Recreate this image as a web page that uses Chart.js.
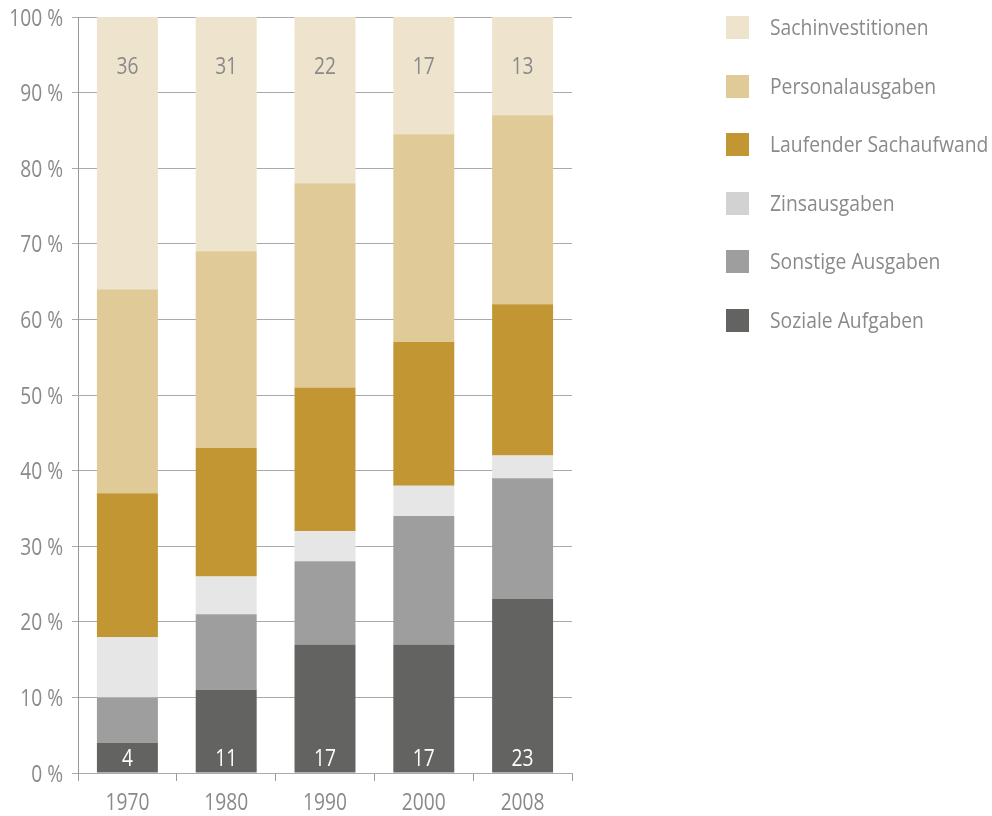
<!DOCTYPE html>
<html><head><meta charset="utf-8">
<script src="https://cdn.jsdelivr.net/npm/chart.js@4"></script>
<style>html,body{margin:0;padding:0;background:#fff;}#wrap{width:992px;height:816px;position:relative;}</style>
</head><body><div id="wrap"><canvas id="c" width="992" height="816"></canvas></div>
<script>
const categories = ['1970','1980','1990','2000','2008'];
const soziale   = [4, 11, 17, 17, 23];
const sonstige  = [6, 10, 11, 17, 16];
const zins      = [8, 5, 4, 4, 3];
const laufender = [19, 17, 19, 19, 20];
const personal  = [27, 26, 27, 27.5, 25];
const sachinv   = [36, 31, 22, 15.5, 13];
const topLabels = ['36','31','22','17','13'];
const yTicks = [0,10,20,30,40,50,60,70,80,90,100];

const FONT = '"Open Sans", "Noto Sans", sans-serif';
const TXT = '#8a8a8a';

const datasets = [
  {label:'Soziale Aufgaben', data:soziale, backgroundColor:'#636361', legendColor:'#636361'},
  {label:'Sonstige Ausgaben', data:sonstige, backgroundColor:'#9d9e9d', legendColor:'#9d9e9d'},
  {label:'Zinsausgaben', data:zins, backgroundColor:'#e6e6e6', legendColor:'#d1d2d1'},
  {label:'Laufender Sachaufwand', data:laufender, backgroundColor:'#c29733', legendColor:'#c29733'},
  {label:'Personalausgaben', data:personal, backgroundColor:'#e0ca98', legendColor:'#e0ca98'},
  {label:'Sachinvestitionen', data:sachinv, backgroundColor:'#eee3cd', legendColor:'#eee3cd'}
];
datasets.forEach(d=>{d.barPercentage=0.617;d.categoryPercentage=1;d.borderWidth=0;});

// draw condensed text (the original uses a narrow font)
function cText(ctx, text, x, y, align, sx){
  ctx.save();
  ctx.translate(x, y);
  ctx.scale(sx, 1);
  ctx.textAlign = align;
  ctx.textBaseline = 'alphabetic';
  ctx.fillText(text, 0, 0);
  ctx.restore();
}

const labelPlugin = {
  id:'labels',
  afterDraw(chart){
    const ctx = chart.ctx, x = chart.scales.x, y = chart.scales.y;
    ctx.save();
    ctx.font = '24px ' + FONT;
    // axis tick labels
    ctx.fillStyle = TXT;
    yTicks.forEach(v=>{
      cText(ctx, v + ' %', 63, y.getPixelForValue(v) + 8.5, 'right', 0.8);
    });
    categories.forEach((c,i)=>{
      cText(ctx, c, x.getPixelForValue(i), y.getPixelForValue(0) + 37, 'center', 0.8);
    });
    // value labels
    categories.forEach((c,i)=>{
      const px = x.getPixelForValue(i);
      ctx.fillStyle = TXT;
      cText(ctx, topLabels[i], px, y.getPixelForValue(100) + 57, 'center', 0.8);
      ctx.fillStyle = '#ffffff';
      cText(ctx, String(soziale[i]), px, y.getPixelForValue(0) - 7, 'center', 0.8);
    });
    // legend
    const items = datasets.slice().reverse();
    ctx.font = '21px ' + FONT;
    items.forEach((d,k)=>{
      const top = 16 + k*58.6;
      ctx.fillStyle = d.legendColor;
      ctx.fillRect(726, Math.round(top), 23, 23);
      ctx.fillStyle = TXT;
      cText(ctx, d.label, 770, Math.round(top) + 19, 'left', 0.92);
    });
    ctx.restore();
  }
};

new Chart(document.getElementById('c'), {
  type:'bar',
  data:{labels:categories, datasets},
  options:{
    responsive:false, animation:false,
    layout:{padding:{left:0,right:420,top:17,bottom:0}},
    plugins:{legend:{display:false}, tooltip:{enabled:false}},
    scales:{
      x:{stacked:true, offset:true,
        grid:{offset:true, drawOnChartArea:false, drawTicks:true, tickLength:8, color:'#999', lineWidth:1},
        border:{display:true, color:'#aaa', width:1},
        ticks:{display:false},
        afterFit(s){s.height=43;}
      },
      y:{stacked:true, min:0, max:100,
        afterBuildTicks(s){s.ticks = yTicks.map(v=>({value:v}));},
        grid:{color:'#aaa', lineWidth:1, tickLength:6, drawTicks:true},
        border:{display:true, color:'#999', width:1},
        ticks:{display:false},
        afterFit(s){s.width=78;}
      }
    }
  },
  plugins:[labelPlugin]
});
</script></body></html>
